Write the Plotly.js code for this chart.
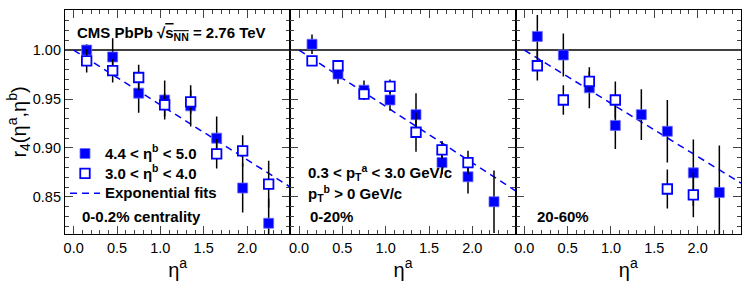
<!DOCTYPE html>
<html><head><meta charset="utf-8">
<script src="https://cdn.plot.ly/plotly-3.0.1.min.js"></script>
<style>body{margin:0;padding:0;background:#fff}</style>
</head><body><div id="chart" style="width:747px;height:293px"></div>
<script>
// eta^a bin centres
const etaA = [0.15, 0.45, 0.75, 1.05, 1.35, 1.65, 1.95, 2.25];
const xTicks = [0, 0.5, 1.0, 1.5, 2.0];
const xTickText = ['0.0', '0.5', '1.0', '1.5', '2.0'];
const yTicks = [0.85, 0.90, 0.95, 1.00];
const yTickText = ['0.85', '0.90', '0.95', '1.00'];

// Panel 1: 0-0.2% centrality
const filled1    = [1.000, 0.993, 0.956, 0.949, 0.943, 0.910, 0.859, 0.823];
const filledErr1 = [0.006, 0.019, 0.020, 0.020, 0.021, 0.022, 0.025, 0.025];
const open1      = [0.989, 0.979, 0.972, 0.944, 0.947, 0.894, 0.897, 0.863];
const openErr1   = [0.012, 0.012, 0.013, 0.012, 0.012, 0.015, 0.016, 0.024];
const fitX1 = [0, 2.5];
const fitY1 = [1.000, 0.860];

// Panel 2: 0-20%
const filled2    = [1.006, 0.9755, 0.959, 0.949, 0.934, 0.885, 0.8705, 0.845];
const filledErr2 = [0.010, 0.010, 0.010, 0.011, 0.022, 0.012, 0.017, 0.032];
const open2      = [0.989, 0.984, 0.955, 0.963, 0.916, 0.898, 0.885, null];
const openErr2   = [0.005, 0.006, 0.006, 0.007, 0.020, 0.009, 0.012, null];
const fitX2 = [0, 2.5];
const fitY2 = [1.000, 0.856];

// Panel 3: 20-60%
const filled3    = [1.014, 0.995, 0.9615, 0.923, 0.934, 0.917, 0.8745, 0.8545];
const filledErr3 = [0.022, 0.022, 0.021, 0.024, 0.026, 0.032, 0.034, 0.048];
const open3      = [0.984, 0.949, 0.968, 0.949, null, 0.858, 0.852, null];
const openErr3   = [0.015, 0.015, 0.010, 0.019, null, 0.020, 0.023, null];
const fitX3 = [0, 2.5];
const fitY3 = [1.000, 0.864];

const seriesNames = ['4.4 < η<sup>b</sup> < 5.0', '3.0 < η<sup>b</sup> < 4.0', 'Exponential fits'];

const BLUE = '#0000ff';
const FONT = 'Liberation Sans, Arial, Helvetica, sans-serif';
const big = s => '<span style="font-size:15px">' + s + '</span>';

function panel(k, filled, filledErr, open, openErr, fitX, fitY) {
  const xa = k === 1 ? 'x' : 'x' + k;
  const ya = k === 1 ? 'y' : 'y' + k;
  const show = k === 1;
  return [
    {x: fitX, y: fitY, xaxis: xa, yaxis: ya, type: 'scatter', mode: 'lines',
     name: big(seriesNames[2]), legendrank: 3, showlegend: show, hoverinfo: 'skip',
     line: {color: BLUE, width: 1.5, dash: '7px,5px'}},
    {x: etaA, y: filled, xaxis: xa, yaxis: ya, type: 'scatter', mode: 'markers',
     name: big(seriesNames[0]), legendrank: 1, showlegend: show,
     marker: {symbol: 'square', size: 10, color: BLUE, line: {color: '#6a6aff', width: 0.8}},
     error_y: {type: 'data', array: filledErr, visible: true, color: '#000', thickness: 1.5, width: 0}},
    {x: etaA, y: open, xaxis: xa, yaxis: ya, type: 'scatter', mode: 'markers',
     name: big(seriesNames[1]), legendrank: 2, showlegend: show,
     marker: {symbol: 'square', size: 9.5, color: '#fff', line: {color: BLUE, width: 1.8}},
     error_y: {type: 'data', array: openErr, visible: true, color: '#000', thickness: 1.5, width: 0}}
  ];
}

const data = [].concat(
  panel(1, filled1, filledErr1, open1, openErr1, fitX1, fitY1),
  panel(2, filled2, filledErr2, open2, openErr2, fitX2, fitY2),
  panel(3, filled3, filledErr3, open3, openErr3, fitX3, fitY3)
);

function xAxis(dom, anchor) {
  return {
    domain: dom, anchor: anchor, range: [-0.1, 2.5], automargin: true,
    tickvals: xTicks, ticktext: xTickText, ticks: 'inside', ticklen: 8, tickwidth: 1,
    minor: {dtick: 0.1, tick0: 0, ticks: 'inside', ticklen: 4, tickwidth: 1, showgrid: false},
    showline: true, linecolor: '#000', linewidth: 1.1, mirror: 'ticks',
    showgrid: false, zeroline: false,
    tickfont: {family: FONT, size: 14.5, color: '#000'},
    title: {text: 'η<sup>a</sup>', standoff: 1, font: {family: FONT, size: 20, color: '#000'}}
  };
}
function yAxis(anchor, labels) {
  return {
    domain: [0, 1], anchor: anchor, range: [0.812, 1.041], automargin: true,
    tickvals: yTicks, ticktext: yTickText, ticks: 'inside', ticklen: 8, tickwidth: 1,
    minor: {dtick: 0.01, tick0: 0.8, ticks: 'inside', ticklen: 4, tickwidth: 1, showgrid: false},
    showline: true, linecolor: '#000', linewidth: 1.1, mirror: 'ticks',
    showgrid: false, zeroline: false, showticklabels: labels,
    tickfont: {family: FONT, size: 14.5, color: '#000'},
    title: labels ? {text: 'r<sub>4</sub>(η<sup>a</sup>,η<sup>b</sup>)', standoff: 0, font: {family: FONT, size: 20, color: '#000'}} : {text: ''}
  };
}

const ann = (text, x, y) => ({text: text, xref: 'paper', yref: 'paper', x: x, y: y,
  xanchor: 'left', yanchor: 'middle', showarrow: false,
  font: {family: FONT, size: 15, color: '#000', weight: 'bold'}});

const layout = {
  width: 747, height: 293,
  margin: {l: 65, r: 6, t: 10, b: 59},
  paper_bgcolor: '#fff', plot_bgcolor: '#fff',
  showlegend: true,
  legend: {x: 0.0, y: 0.426, xanchor: 'left', yanchor: 'top', bgcolor: 'rgba(0,0,0,0)',
           font: {family: FONT, size: 13, color: '#000', weight: 'bold'}, traceorder: 'normal'},
  xaxis: xAxis([0, 1/3], 'y'),
  xaxis2: xAxis([1/3, 2/3], 'y2'),
  xaxis3: xAxis([2/3, 1], 'y3'),
  yaxis: yAxis('x', true),
  yaxis2: yAxis('x2', false),
  yaxis3: yAxis('x3', false),
  shapes: [
    {type: 'line', xref: 'paper', yref: 'y', x0: 0, x1: 1, y0: 1.0, y1: 1.0,
     line: {color: '#000', width: 1.5}, layer: 'below'}
  ],
  annotations: [
    ann('CMS PbPb √<span style="text-decoration:overline">s<sub>NN</sub></span> = 2.76 TeV', 0.0148, 0.893),
    ann('0-0.2% centrality', 0.0222, 0.078),
    ann('0.3 < p<sub>T</sub><sup>a</sup> < 3.0 GeV/c', 0.3565, 0.275),
    ann('p<sub>T</sub><sup>b</sup> > 0 GeV/c', 0.3565, 0.183),
    ann('0-20%', 0.3595, 0.078),
    ann('20-60%', 0.6953, 0.078)
  ]
};

Plotly.newPlot('chart', data, layout, {displayModeBar: false, staticPlot: true});
</script>
</body></html>
